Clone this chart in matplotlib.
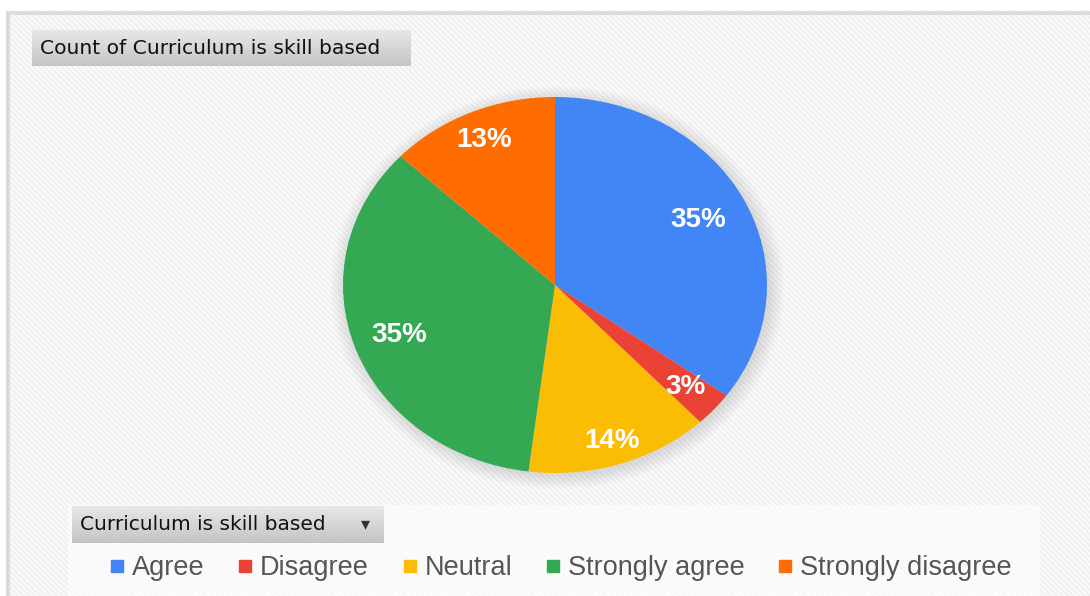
import numpy as np
import matplotlib
matplotlib.use('Agg')
import matplotlib.pyplot as plt
from matplotlib.patches import Rectangle, Ellipse
from matplotlib.colors import LinearSegmentedColormap

categories = ['Agree', 'Disagree', 'Neutral', 'Strongly agree', 'Strongly disagree']
values = [35, 3, 14, 35, 13]
colors = ['#4285f4', '#ea4335', '#fbbc04', '#34a853', '#ff6d01']
title = 'Count of Curriculum is skill based'
field_name = 'Curriculum is skill based'

W, H = 1090, 596
plt.rcParams['hatch.linewidth'] = 1.5

fig = plt.figure(figsize=(W / 100, H / 100), dpi=100)
fig.patch.set_facecolor('white')

def px_axes(x0, y0, x1, y1, **kw):
    # pixel box (top-left origin) -> figure axes
    return fig.add_axes([x0 / W, 1 - y1 / H, (x1 - x0) / W, (y1 - y0) / H], **kw)

# chart background with light diagonal stripes
bg = px_axes(0, 0, W, H)
bg.set_xlim(0, W)
bg.set_ylim(H, 0)
bg.axis('off')
bg.add_patch(Rectangle((8, 13), W, H, facecolor='#fbfbfb', edgecolor='#dcdcdc', lw=3))
bg.add_patch(Rectangle((10, 15), W, H, facecolor='none', edgecolor='#f0f0f0',
                       hatch='\\\\\\\\\\\\', lw=0))
# lighter legend area
bg.add_patch(Rectangle((68, 505), 972, 95, facecolor='white', alpha=0.6, lw=0))

# title box with gradient
grad = np.linspace(0, 1, 64).reshape(-1, 1)
gcmap = LinearSegmentedColormap.from_list('g', ['#e8e8e8', '#c4c4c4'])
tax = px_axes(32, 30, 411, 66)
tax.imshow(grad, cmap=gcmap, aspect='auto', extent=(0, 1, 0, 1))
tax.axis('off')
fig.text(40 / W, 1 - 48 / H, title, fontsize=14.6, color='#111111',
         va='center', ha='left', family='DejaVu Sans')

# dropdown box
dax = px_axes(72, 506, 384, 543)
dax.imshow(grad, cmap=gcmap, aspect='auto', extent=(0, 1, 0, 1))
dax.axis('off')
fig.text(80 / W, 1 - 525 / H, field_name, fontsize=14.5, color='#111111',
         va='center', ha='left', family='DejaVu Sans')
fig.text(365 / W, 1 - 524 / H, '\u25BE', fontsize=13, color='#333333',
         va='center', ha='center', family='DejaVu Sans')

# pie (elliptical as in the source)
cx, cy, rx, ry = 555, 285, 212, 188
ax = px_axes(cx - rx, cy - ry, cx + rx, cy + ry)
for i in range(10):
    s = 1 + 0.008 * i
    ax.add_patch(Ellipse((0.012, -0.015), 2 * s, 2 * s, facecolor='#000000',
                         alpha=0.012, lw=0, clip_on=False, zorder=0))
wedges, texts, autotexts = ax.pie(values, colors=colors, startangle=90,
                                  counterclock=False, autopct='%d%%',
                                  pctdistance=0.8,
                                  wedgeprops=dict(linewidth=0),
                                  textprops=dict(color='white', fontsize=20,
                                                 fontweight='bold',
                                                 family='Liberation Sans'))
for w in wedges:
    w.set_zorder(2)
label_r = [0.76, 0.82, 0.87, 0.78, 0.84]
for w, t, r in zip(wedges, autotexts, label_r):
    ang = np.deg2rad((w.theta1 + w.theta2) / 2)
    t.set_position((r * np.cos(ang), r * np.sin(ang)))
    t.set_zorder(3)
ax.set_aspect('auto')
ax.set_xlim(-1, 1)
ax.set_ylim(-1, 1)
ax.axis('off')

# legend
handles = [plt.Line2D([], [], marker='s', ls='', color=c, markersize=8.6) for c in colors]
leg = fig.legend(handles, categories, loc='center', ncol=5,
                 bbox_to_anchor=(561 / W, 1 - 568 / H), frameon=False,
                 handlelength=0.5, handletextpad=0.3, columnspacing=1.25,
                 prop=dict(family='Liberation Sans', size=19.5))
for t in leg.get_texts():
    t.set_color('#555555')

fig.savefig('out.png', dpi=100)
